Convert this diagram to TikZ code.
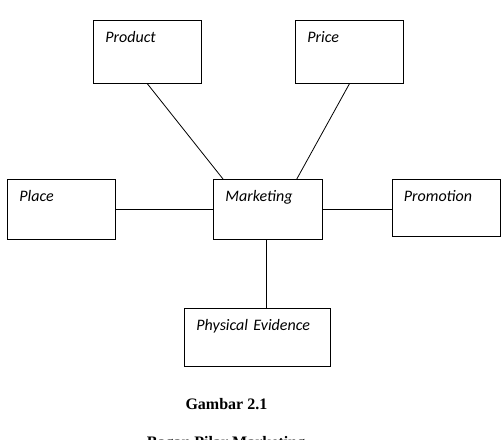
\documentclass[tikz,border=0pt]{standalone}
\usepackage{fontspec}
\setmainfont{Liberation Serif}
\setsansfont{Carlito}
\usetikzlibrary{calc}

\tikzset{
  pilar/.style={draw, line width=0.8pt, anchor=north west, align=left,
    inner xsep=12pt, inner ysep=0pt, text height=22pt, text width=84pt,
    font=\sffamily\itshape\fontsize{16}{19}\selectfont},
  judul/.style={anchor=base, font=\bfseries\fontsize{16}{19}\selectfont},
  garis/.style={line width=0.8pt}
}

\begin{document}
\begin{tikzpicture}[x=1pt, y=-1pt]
			%%%%% START %%%%%
			\useasboundingbox (0, 0) rectangle (502, 439);
			\clip (0, 0) rectangle (502, 439);
			
			\node[pilar, text depth=41pt] (product) at (93, 20) {Product};
			\node[pilar, text depth=41pt] (price) at (295, 20) {Price};
			
			\node[pilar, text depth=38pt] (place) at (7, 179) {Place};
			\node[pilar, text depth=38pt, text width=85pt] (marketing) at (213, 179) {Marketing};
			\node[pilar, text depth=35pt] (promotion) at (391.5, 179) {Promotion};
			
			\node[pilar, text depth=36pt, text width=122pt] (evidence) at (184, 308) {Physical Evidence};
			
			\coordinate (mkt bawah) at ($(marketing.south)+(-2, 0)$);
			
			\draw[garis] (product.south) -- ($(marketing.north west)+(10, 0)$);
			\draw[garis] (price.south) -- ($(marketing.north east)+(-26, 0)$);
			\draw[garis] (place.east) -- (marketing.west);
			\draw[garis] (marketing.east) -- (marketing.east -| promotion.west);
			\draw[garis] (mkt bawah) -- (mkt bawah |- evidence.north);
			
			\node[judul] (gambar) at (226.4, 409.3) {Gambar 2.1};
			\node[judul] (caption) at (226, 447.6) {Bagan Pilar Marketing};
			
			%%%%% END %%%%%
\end{tikzpicture}
\end{document}
